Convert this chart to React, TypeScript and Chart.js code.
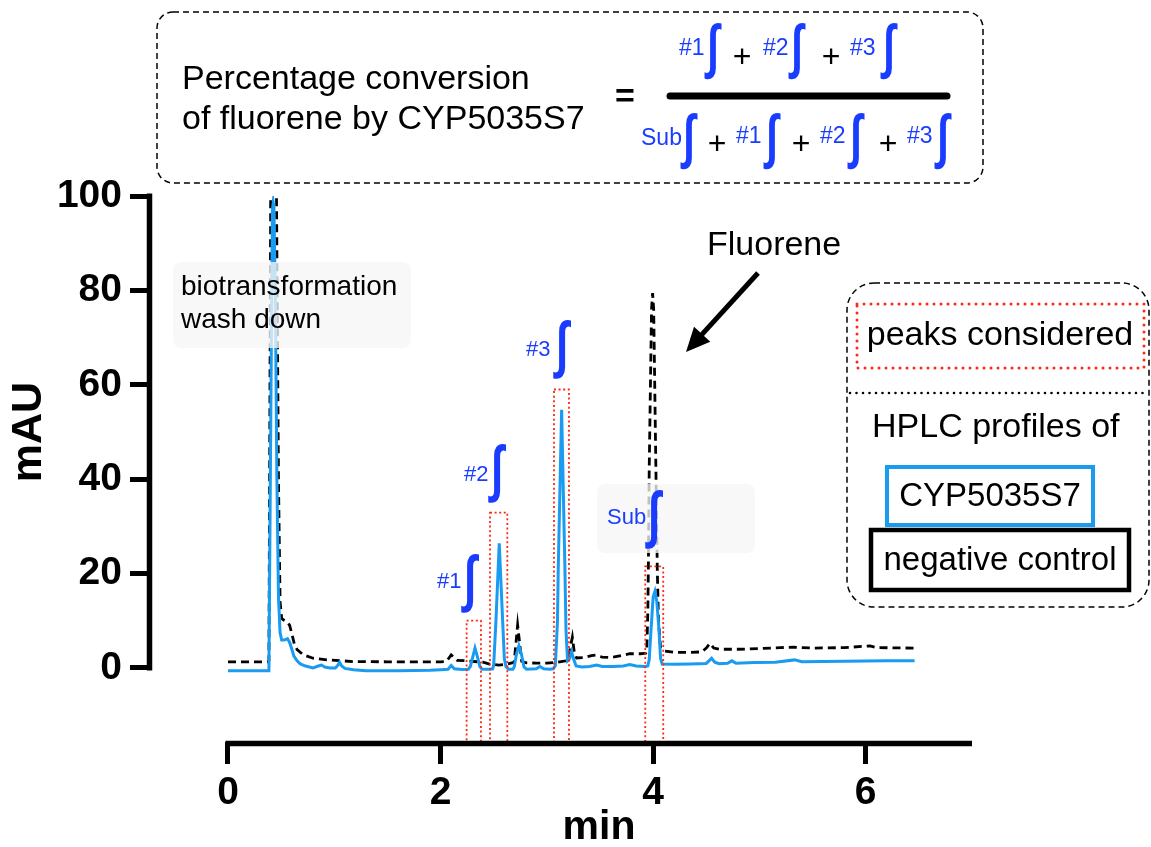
import React, { useEffect, useRef } from 'react';
import { Chart, registerables } from 'chart.js';

Chart.register(...registerables);

// ---------- data ----------
const blueTime = [
  0, 0.38, 0.385, 0.405, 0.418, 0.425, 0.432, 0.445, 0.46, 0.475, 0.49, 0.505, 0.53, 0.56, 0.58, 0.6, 0.62, 0.65, 0.68, 0.73,
  0.8, 0.85, 0.88, 0.91, 0.96, 1.01, 1.035, 1.05, 1.07, 1.1, 1.18, 1.3, 1.6, 1.9, 2.0, 2.07, 2.1, 2.13, 2.2, 2.26,
  2.28, 2.305, 2.324, 2.345, 2.37, 2.39, 2.46, 2.49, 2.5, 2.521, 2.552, 2.584, 2.6, 2.615, 2.64, 2.68, 2.693, 2.715, 2.737, 2.76,
  2.785, 2.81, 2.9, 2.935, 2.97, 3.03, 3.06, 3.08, 3.1, 3.107, 3.139, 3.17, 3.18, 3.195, 3.21, 3.232, 3.25, 3.275, 3.33, 3.4,
  3.47, 3.52, 3.62, 3.72, 3.78, 3.84, 3.92, 3.95, 3.963, 3.98, 4.0, 4.017, 4.035, 4.055, 4.07, 4.085, 4.2, 4.35, 4.5, 4.53,
  4.55, 4.58, 4.62, 4.7, 4.74, 4.78, 4.95, 5.15, 5.33, 5.4, 5.6, 5.8, 6.0, 6.2, 6.46,
];
const blueAbs = [
  -0.6, -0.6, -0.4, 60, 97, 98.5, 97, 80, 40, 15, 7.5, 5.9, 5.9, 6.2, 5.4, 4.0, 2.5, 1.5, 0.85, 0.4,
  0.0, 0.4, 0.6, 0.2, 0.0, 0.0, 0.6, 1.2, 0.4, -0.1, -0.4, -0.6, -0.6, -0.5, -0.4, -0.3, 0.5, -0.2, -0.35, -0.3,
  0.3, 2.5, 4.2, 2.5, 0.3, -0.3, -0.3, -0.2, 0.6, 10, 26.4, 10, 2, 0.3, -0.3, -0.3, 0.2, 3, 4.7, 3,
  0.2, -0.3, -0.2, 0.3, -0.2, -0.3, -0.2, 0.5, 10, 20.8, 54.7, 20.8, 8, 1.5, 1.8, 3.45, 2, 0.4, 0.2, 0.3,
  0.6, 0.3, 0.3, 0.4, 0.7, 0.4, 0.3, 0.4, 1.7, 8, 15, 16.2, 14, 8, 2, 0.85, 0.8, 0.85, 0.95, 1.6,
  2.05, 1.2, 0.9, 1.0, 1.5, 1.0, 1.15, 1.2, 1.7, 1.3, 1.35, 1.4, 1.45, 1.5, 1.5,
];
const controlTime = [
  0, 0.38, 0.385, 0.405, 0.45, 0.475, 0.49, 0.505, 0.52, 0.56, 0.58, 0.6, 0.625, 0.65, 0.71, 0.8, 0.93, 1.05, 1.18, 1.5,
  1.8, 2.0, 2.057, 2.1, 2.157, 2.25, 2.4, 2.46, 2.55, 2.62, 2.68, 2.693, 2.725, 2.763, 2.8, 2.9, 3.0, 3.1, 3.18, 3.21,
  3.24, 3.26, 3.28, 3.35, 3.42, 3.46, 3.52, 3.6, 3.7, 3.78, 3.88, 3.93, 3.94, 3.95, 3.955, 3.963, 3.985, 3.995, 4.005, 4.026,
  4.039, 4.05, 4.07, 4.1, 4.2, 4.35, 4.46, 4.5, 4.534, 4.57, 4.62, 4.8, 5.0, 5.2, 5.32, 5.5, 5.8, 6.0, 6.04, 6.1, 6.46,
];
const controlAbs = [
  1.3, 1.3, 1.5, 120, 120, 40, 14, 10.5, 10.2, 9.7, 9, 7.3, 5, 3.9, 2.75, 2.05, 1.7, 1.55, 1.33, 1.3,
  1.3, 1.3, 1.4, 2.75, 1.6, 1.5, 1.2, 0.8, 0.6, 0.8, 1.1, 1.3, 9.1, 1.4, 1.1, 1.0, 1.0, 1.2, 1.5, 3,
  6.5, 3, 2.1, 2.2, 2.6, 2.7, 2.3, 2.2, 2.6, 3.0, 3.0, 3.1, 3.5, 12, 21, 42, 76, 79.4, 76, 42,
  21, 10, 4.2, 3.6, 3.3, 3.3, 3.4, 4.2, 5.2, 4.2, 3.95, 3.95, 4.1, 4.3, 4.4, 4.2, 4.3, 4.6, 4.66, 4.3, 4.2,
];
const xTickValues = [0, 2, 4, 6];
const yTickValues = [0, 20, 40, 60, 80, 100];
const peakNames = ['#1', '#2', '#3', 'Sub'];
const peakStart = [2.245, 2.465, 3.067, 3.926];
const peakEnd = [2.38, 2.628, 3.208, 4.095];
const peakTop = [10, 32.9, 59, 21.5];

// ---------- styles ----------
const BLUE = 'rgb(24,155,240)';
const LABEL_BLUE = '#1a3cff';
const RED = 'rgb(255,40,20)';
const SANS = '"Liberation Sans", Arial, Helvetica, sans-serif';

function integral(ctx: CanvasRenderingContext2D, cx: number, cy: number, size: number) {
  ctx.save();
  ctx.translate(cx, cy);
  ctx.scale(0.95, 1.35);
  ctx.fillStyle = LABEL_BLUE;
  ctx.font = `bold ${size}px ${SANS}`;
  ctx.textAlign = 'center';
  ctx.textBaseline = 'middle';
  ctx.fillText('∫', 0, 0);
  ctx.restore();
}

function text(ctx: CanvasRenderingContext2D, s: string, x: number, y: number, font: string, color = '#000', align: CanvasTextAlign = 'left', base: CanvasTextBaseline = 'alphabetic') {
  ctx.save();
  ctx.font = font;
  ctx.fillStyle = color;
  ctx.textAlign = align;
  ctx.textBaseline = base;
  ctx.fillText(s, x, y);
  ctx.restore();
}

const overlay = {
  id: 'overlay',
  afterDatasetsDraw(chart: any) {
    const { ctx, chartArea, scales } = chart;
    const xs = scales.x;
    const ys = scales.y;
    ctx.save();
    // peak windows
    ctx.strokeStyle = RED;
    ctx.lineWidth = 1.8;
    ctx.setLineDash([2, 2.6]);
    for (let i = 0; i < peakStart.length; i++) {
      const x1 = xs.getPixelForValue(peakStart[i]);
      const x2 = xs.getPixelForValue(peakEnd[i]);
      const y1 = ys.getPixelForValue(peakTop[i]);
      ctx.strokeRect(x1, y1, x2 - x1, chartArea.bottom - y1);
    }
    ctx.setLineDash([]);
    // translucent label boxes
    ctx.fillStyle = 'rgba(246,246,246,0.78)';
    ctx.beginPath();
    ctx.roundRect(173, 262, 238, 86, 8);
    ctx.fill();
    ctx.beginPath();
    ctx.roundRect(597, 484, 158, 69, 8);
    ctx.fill();
    ctx.restore();

    const f28 = `${28}px ${SANS}`;
    text(ctx, 'biotransformation', 181, 295, f28);
    text(ctx, 'wash down', 181, 328, f28);
    text(ctx, 'Fluorene', 707, 255, `34px ${SANS}`);

    // arrow
    ctx.save();
    ctx.strokeStyle = '#000';
    ctx.fillStyle = '#000';
    ctx.lineWidth = 5;
    const tx = 686, ty = 352, sx = 758, sy = 273;
    const ang = Math.atan2(ty - sy, tx - sx);
    ctx.beginPath();
    ctx.moveTo(sx, sy);
    ctx.lineTo(tx - 16 * Math.cos(ang), ty - 16 * Math.sin(ang));
    ctx.stroke();
    ctx.beginPath();
    ctx.moveTo(tx, ty);
    ctx.lineTo(tx - 24 * Math.cos(ang) + 11 * Math.sin(ang), ty - 24 * Math.sin(ang) - 11 * Math.cos(ang));
    ctx.lineTo(tx - 24 * Math.cos(ang) - 11 * Math.sin(ang), ty - 24 * Math.sin(ang) + 11 * Math.cos(ang));
    ctx.closePath();
    ctx.fill();
    ctx.restore();

    // peak labels
    const lf = `22px ${SANS}`;
    const labelPos = [
      [437, 588, 470, 582],
      [464, 481, 497, 472],
      [526, 356, 562, 348],
      [607, 524, 654, 518],
    ];
    peakNames.forEach((n, i) => {
      const [lx, ly, ix, iy] = labelPos[i];
      text(ctx, n, lx, ly, lf, LABEL_BLUE);
      integral(ctx, ix, iy, 46);
    });
  },
  afterDraw(chart: any) {
    const { ctx, chartArea, scales } = chart;
    const xs = scales.x;
    const ys = scales.y;
    ctx.save();
    // axis lines
    ctx.strokeStyle = '#000';
    ctx.lineWidth = 5.5;
    ctx.lineCap = 'butt';
    ctx.beginPath();
    ctx.moveTo(chartArea.left - 2.5, ys.getPixelForValue(100) - 2.5);
    ctx.lineTo(chartArea.left - 2.5, ys.getPixelForValue(0) + 2.5);
    ctx.stroke();
    ctx.beginPath();
    ctx.moveTo(xs.getPixelForValue(0) - 2.5, chartArea.bottom + 1.5);
    ctx.lineTo(xs.getPixelForValue(7), chartArea.bottom + 1.5);
    ctx.stroke();
    ctx.restore();

    // axis titles
    text(ctx, 'min', 599, 828, `bold 41px ${SANS}`, '#000', 'center', 'middle');
    ctx.save();
    ctx.translate(29, 432);
    ctx.rotate(-Math.PI / 2);
    text(ctx, 'mAU', 0, 0, `bold 43px ${SANS}`, '#000', 'center', 'middle');
    ctx.restore();

    // formula box
    ctx.save();
    ctx.strokeStyle = '#000';
    ctx.lineWidth = 1.5;
    ctx.setLineDash([6, 4]);
    ctx.beginPath();
    ctx.roundRect(157, 12, 826, 171, 16);
    ctx.stroke();
    ctx.setLineDash([]);
    ctx.restore();
    const f34 = `34px ${SANS}`;
    const f33 = `33px ${SANS}`;
    text(ctx, 'Percentage conversion', 182, 89, f34);
    text(ctx, 'of fluorene by CYP5035S7', 182, 129, f34);
    text(ctx, '=', 625, 98, `bold 34px ${SANS}`, '#000', 'center', 'middle');
    ctx.save();
    ctx.strokeStyle = '#000';
    ctx.lineWidth = 7;
    ctx.lineCap = 'round';
    ctx.beginPath();
    ctx.moveTo(670, 96);
    ctx.lineTo(947, 96);
    ctx.stroke();
    ctx.restore();
    const sf = `23px ${SANS}`;
    const pf = `32px ${SANS}`;
    const isz = 44;
    // numerator
    text(ctx, '#1', 679, 55, sf, LABEL_BLUE);
    integral(ctx, 713, 50, isz);
    text(ctx, '+', 742, 58, pf, '#000', 'center', 'middle');
    text(ctx, '#2', 763, 55, sf, LABEL_BLUE);
    integral(ctx, 797, 50, isz);
    text(ctx, '+', 831, 58, pf, '#000', 'center', 'middle');
    text(ctx, '#3', 850, 55, sf, LABEL_BLUE);
    integral(ctx, 889, 50, isz);
    // denominator
    text(ctx, 'Sub', 641, 145, sf, LABEL_BLUE);
    integral(ctx, 689, 140, isz);
    text(ctx, '+', 717, 145, pf, '#000', 'center', 'middle');
    text(ctx, '#1', 736, 143, sf, LABEL_BLUE);
    integral(ctx, 772, 140, isz);
    text(ctx, '+', 801, 145, pf, '#000', 'center', 'middle');
    text(ctx, '#2', 820, 143, sf, LABEL_BLUE);
    integral(ctx, 856, 140, isz);
    text(ctx, '+', 888, 145, pf, '#000', 'center', 'middle');
    text(ctx, '#3', 907, 143, sf, LABEL_BLUE);
    integral(ctx, 943, 140, isz);

    // legend box
    ctx.save();
    ctx.strokeStyle = '#000';
    ctx.lineWidth = 1.5;
    ctx.setLineDash([6, 4]);
    ctx.beginPath();
    ctx.roundRect(847, 283, 302, 324, 27);
    ctx.stroke();
    ctx.lineCap = 'round';
    ctx.strokeStyle = RED;
    ctx.lineWidth = 3;
    ctx.setLineDash([0, 7]);
    ctx.strokeRect(857, 304, 287, 64);
    ctx.strokeStyle = '#000';
    ctx.lineWidth = 2.6;
    ctx.setLineDash([0, 6.5]);
    ctx.beginPath();
    ctx.moveTo(850, 393);
    ctx.lineTo(1149, 393);
    ctx.stroke();
    ctx.setLineDash([]);
    ctx.lineCap = 'butt';
    ctx.strokeStyle = BLUE;
    ctx.lineWidth = 4;
    ctx.strokeRect(887, 467, 206, 58);
    ctx.strokeStyle = '#000';
    ctx.lineWidth = 4.5;
    ctx.strokeRect(871, 530, 258, 60);
    ctx.restore();
    text(ctx, 'peaks considered', 1000, 336, f34, '#000', 'center', 'middle');
    text(ctx, 'HPLC profiles of', 872, 437, f34);
    text(ctx, 'CYP5035S7', 990, 497, f33, '#000', 'center', 'middle');
    text(ctx, 'negative control', 1000, 561, f33, '#000', 'center', 'middle');
  },
};

export default function App() {
  const ref = useRef<HTMLCanvasElement>(null);
  useEffect(() => {
    if (!ref.current) return;
    const tickFont = { family: SANS, size: 39, weight: 'bold' as const };
    const chart = new Chart(ref.current, {
      type: 'line',
      data: {
        datasets: [
          {
            label: 'CYP5035S7',
            data: blueTime.map((t, i) => ({ x: t, y: blueAbs[i] })),
            borderColor: BLUE,
            borderWidth: 3,
            pointRadius: 0,
            tension: 0,
            fill: false,
          },
          {
            label: 'negative control',
            data: controlTime.map((t, i) => ({ x: t, y: controlAbs[i] })),
            borderColor: '#000',
            borderWidth: 2.8,
            borderDash: [8, 5],
            pointRadius: 0,
            tension: 0,
            fill: false,
          },
        ],
      },
      options: {
        animation: false,
        responsive: false,
        layout: { padding: { top: 196, right: 179, left: 0, bottom: 0 } },
        plugins: { legend: { display: false }, tooltip: { enabled: false } },
        scales: {
          x: {
            type: 'linear',
            min: -0.715,
            max: 7,
            afterBuildTicks: (s: any) => {
              s.ticks = xTickValues.map((v) => ({ value: v }));
            },
            afterFit: (s: any) => {
              s.height = 105;
            },
            grid: { drawOnChartArea: false, drawTicks: true, tickLength: 22, color: '#000', lineWidth: 5 },
            border: { display: false },
            ticks: { font: tickFont, color: '#000', padding: 6, maxRotation: 0, autoSkip: false },
          },
          y: {
            type: 'linear',
            min: -15.7,
            max: 100,
            afterBuildTicks: (s: any) => {
              s.ticks = yTickValues.map((v) => ({ value: v }));
            },
            afterFit: (s: any) => {
              s.width = 152;
            },
            grid: { drawOnChartArea: false, drawTicks: true, tickLength: 22, color: '#000', lineWidth: 5 },
            border: { display: false },
            ticks: { font: tickFont, color: '#000', padding: 8, autoSkip: false },
          },
        },
      },
      plugins: [overlay],
    });
    return () => chart.destroy();
  }, []);
  return (
    <div style={{ position: 'absolute', left: 0, top: 0, width: 1151, height: 847, background: '#fff' }}>
      <canvas ref={ref} width={1151} height={847} style={{ display: 'block' }} />
    </div>
  );
}
